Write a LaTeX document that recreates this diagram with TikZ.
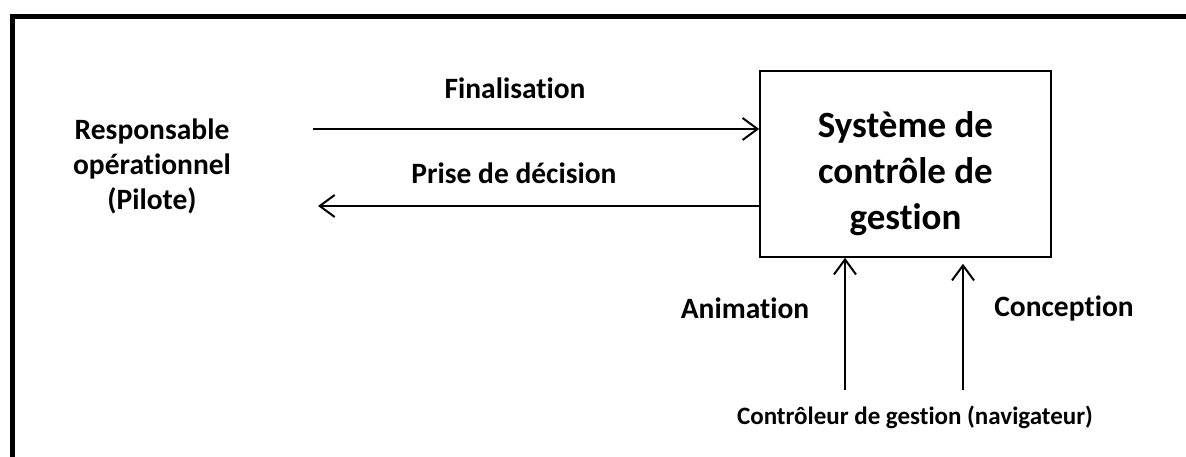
\documentclass[tikz,border=0pt]{standalone}
\usepackage{fontspec}
\setmainfont{Carlito}[Ligatures={NoCommon,NoContextual}]
\usetikzlibrary{arrows.meta}

\tikzset{
  lbl/.style={font=\bfseries\fontsize{29.5}{35}\selectfont, align=center, inner sep=0pt},
  smalllbl/.style={font=\bfseries\fontsize{25}{30}\selectfont, inner sep=0pt},
  biglbl/.style={font=\bfseries\fontsize{37}{46}\selectfont, align=center, inner sep=0pt},
  sysbox/.style={draw, line width=1.5pt, minimum width=291pt, minimum height=186pt, inner sep=0pt},
  flow/.style={line width=2pt, -{Straight Barb[length=15pt, width=22pt, line width=2pt]}}
}

\begin{document}
\begin{tikzpicture}[x=1pt, y=-1pt]

\useasboundingbox (0,0) rectangle (1186,457);

\draw[line width=5pt] (12.5,457) -- (12.5,16.5) -- (1186,16.5);

\node[sysbox] (scg) at (905.5,164) {};
\node[biglbl] (scgtext) at ([yshift=-10pt]scg.center) {Système de\\contrôle de\\gestion};

\node[lbl] (pilote) at (152,166) {Responsable\\opérationnel\\(Pilote)};

\node[lbl] (finlbl) at (515,88) {Finalisation};
\node[lbl] (declbl) at (514,173) {Prise de décision};
\node[lbl] (animlbl) at (745,308) {Animation};
\node[lbl] (conclbl) at (1064,308) {Conception};
\node[smalllbl] (navig) at (915,417) {Contrôleur de gestion (navigateur)};

\coordinate (fin) at (313,129);
\coordinate (dec) at (318,206);
\coordinate (anim) at (845,390);
\coordinate (conc) at (963,390);

\draw[flow] (fin) -- (fin -| scg.west);
\draw[flow] (dec -| scg.west) -- (dec);
\draw[flow] (anim) -- (anim |- scg.south);
\draw[flow] (conc) -- ([yshift=-6pt]conc |- scg.south);

\end{tikzpicture}
\end{document}
